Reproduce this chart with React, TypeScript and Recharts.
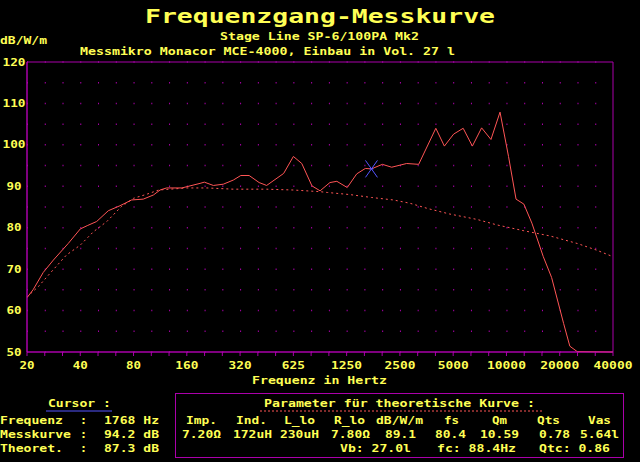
import React from "react";
import {
  LineChart,
  Line,
  XAxis,
  YAxis,
  CartesianGrid,
  ReferenceArea,
  ReferenceDot,
} from "recharts";

const YELLOW = "#ffff55";
const MAGENTA = "#aa00aa";
const RED = "#ff5555";
const BLUE = "#5555ff";
const FONT = "'DejaVu Sans Mono', monospace";

// Messkurve (measured), Hz / dB
const messFreq = [
  20, 21.7, 24.7, 28.2, 34.2, 40, 43.8, 49.5, 57.6, 67, 78, 90.8, 103.6, 113,
  123, 150, 190, 201, 226, 257, 293, 323, 360, 410, 452, 564, 640, 714, 815,
  906, 1030, 1127, 1290, 1460, 1632, 1768, 2038, 2300, 2794, 3268, 4085, 4566,
  5152, 5830, 6572, 7412, 8369, 9418, 10520, 11600, 12840, 14260, 16540, 18420,
  21540, 23360, 25700, 40960,
];
const messDb = [
  63.1, 65.1, 69.2, 72.2, 76.2, 79.7, 80.5, 81.5, 84.1, 85.3, 86.7, 86.9, 87.9,
  89.1, 89.6, 89.6, 90.7, 91.0, 90.2, 90.5, 91.5, 92.6, 92.6, 90.9, 90.2, 93.1,
  97.2, 95.5, 90.1, 88.9, 90.9, 91.2, 89.7, 93.0, 94.3, 94.2, 95.3, 94.6, 95.5,
  95.3, 104.0, 99.7, 102.6, 104.0, 99.7, 104.1, 101.3, 107.9, 97.2, 86.9, 85.7,
  81.1, 73.0, 68.0, 56.9, 51.4, 50.1, 50.0,
];

// theoretische Kurve
const theoFreq = [
  20, 23.2, 27, 33.4, 40, 47.4, 56.5, 68.3, 80, 95.3, 111, 160, 208, 293, 452,
  640, 906, 1000, 1334, 1768, 2350, 2920, 3700, 4900, 6980, 9000, 12720, 18100,
  25700, 33040, 40960,
];
const theoDb = [
  63.3, 65.8, 69.0, 73.4, 75.8, 79.0, 81.5, 85.1, 87.1, 88.1, 89.1, 89.6, 89.6,
  89.3, 89.3, 89.1, 88.7, 88.5, 88.0, 87.3, 86.7, 85.9, 84.6, 83.3, 82.0, 80.7,
  79.3, 78.0, 76.2, 74.6, 73.0,
];

const xLabels = ["20", "40", "80", "160", "320", "625", "1250", "2500", "5000", "10000", "20000", "40000"];
const yTicks = [50, 55, 60, 65, 70, 75, 80, 85, 90, 95, 100, 105, 110, 115, 120];

const cursor = { freq: 1768, mess: 94.2, theo: 87.3 };
const cursorRows = ["Frequenz", "Messkurve", "Theoret."];
const cursorVals = [`${cursor.freq} Hz`, `${cursor.mess} dB`, `${cursor.theo} dB`];

const paramNames = ["Imp.", "Ind.", "L_lo", "R_lo", "dB/W/m", "fs", "Qm", "Qts", "Vas"];
const paramValues = ["7.20Ω", "172uH", "230uH", "7.80Ω", "89.1", "80.4", "10.59", "0.78", "5.64l"];
const boxValues = ["Vb: 27.0l", "fc: 88.4Hz", "Qtc: 0.86"];

// layout of the parameter table
const nameX = [186, 236, 284, 334, 376, 444, 492, 537, 588];
const valueX = [182, 233, 280, 331, 385, 435, 480, 539, 580];
const boxX = [340, 437, 539];

const messData = messFreq.map((f, i) => ({ f, db: messDb[i] }));
const theoData = theoFreq.map((f, i) => ({ f, db: theoDb[i] }));
const xTicks = Array.from({ length: 34 }, (_, k) => 20 * Math.pow(2, k / 3));

// bitmap-like text: 8px per character cell
function Txt({ x, y, s, size = 10, cell = 8, anchor = "start", fill = YELLOW }: any) {
  return (
    <text
      x={x}
      y={y}
      fontFamily={FONT}
      fontWeight="bold"
      fontSize={size}
      fill={fill}
      textAnchor={anchor}
      textLength={s.length * cell - cell / 8}
      lengthAdjust="spacingAndGlyphs"
    >
      {s}
    </text>
  );
}

const XTick = ({ x, y, payload }: any) => {
  const k = Math.round(Math.log2(payload.value / 20) * 3);
  if (k % 3 !== 0) return <g />;
  return <Txt x={x} y={y + 11} s={xLabels[k / 3]} anchor="middle" />;
};

const YTick = ({ x, y, payload }: any) => {
  if (payload.value % 10 !== 0) return <g />;
  return <Txt x={x - 13} y={y + 3.5} s={String(payload.value)} anchor="middle" />;
};

const CursorMark = ({ cx, cy }: any) => (
  <g stroke={BLUE} strokeWidth={1}>
    <line x1={cx - 6} y1={cy - 8.5} x2={cx + 6} y2={cy + 8.5} />
    <line x1={cx - 6} y1={cy + 8.5} x2={cx + 6} y2={cy - 8.5} />
    <line x1={cx - 2} y1={cy} x2={cx + 2} y2={cy} />
  </g>
);

export default function App() {
  return (
    <div style={{ position: "fixed", left: 0, top: 0, width: 640, height: 462, background: "#000" }}>
      <LineChart width={640} height={462} margin={{ top: 62, right: 27, bottom: 80, left: 0 }}>
        <CartesianGrid
          vertical={false}
          stroke={MAGENTA}
          strokeDasharray="1 16.758"
          strokeWidth={1.5}
        />
        <XAxis
          dataKey="f"
          type="number"
          scale="log"
          domain={[20, 40960]}
          allowDataOverflow
          ticks={xTicks}
          interval={0}
          height={30}
          tickSize={4}
          tick={<XTick />}
          tickLine={{ stroke: MAGENTA }}
          axisLine={{ stroke: MAGENTA }}
        />
        <YAxis
          type="number"
          domain={[50, 120]}
          ticks={yTicks}
          interval={0}
          width={27}
          tickSize={0}
          tickMargin={0}
          tickLine={false}
          tick={<YTick />}
          axisLine={{ stroke: MAGENTA }}
        />
        <ReferenceArea x1={20} x2={40960} y1={50} y2={120} fill="none" stroke={MAGENTA} fillOpacity={0} />
        <Line
          data={theoData}
          dataKey="db"
          type="linear"
          stroke={RED}
          strokeWidth={1}
          strokeDasharray="2 3"
          dot={false}
          isAnimationActive={false}
        />
        <Line
          data={messData}
          dataKey="db"
          type="linear"
          stroke={RED}
          strokeWidth={1}
          dot={false}
          isAnimationActive={false}
        />
        <ReferenceDot x={cursor.freq} y={cursor.mess} r={6} shape={<CursorMark />} />
      </LineChart>

      <svg
        width={640}
        height={462}
        style={{ position: "absolute", left: 0, top: 0, pointerEvents: "none" }}
      >
        <Txt x={145} y={23} s="Frequenzgang-Messkurve" size={19} cell={16} />
        <Txt x={220} y={39.5} s="Stage Line SP-6/100PA Mk2" />
        <Txt x={0} y={44} s="dB/W/m" />
        <Txt x={80} y={54.5} s="Messmikro Monacor MCE-4000, Einbau in Vol. 27 l" />
        <Txt x={252} y={384} s="Frequenz in Hertz" />

        <Txt x={48} y={407} s="Cursor :" />
        <line x1={46} y1={411} x2={112} y2={411} stroke={BLUE} />
        {cursorRows.map((r, i) => (
          <g key={r}>
            <Txt x={0} y={423.5 + i * 14} s={r} />
            <Txt x={80} y={423.5 + i * 14} s=":" />
            <Txt x={104} y={423.5 + i * 14} s={cursorVals[i]} />
          </g>
        ))}

        <rect x={175.5} y={393.5} width={448} height={64} fill="none" stroke={MAGENTA} />
        <Txt x={264} y={407} s="Parameter für theoretische Kurve :" />
        <line x1={260} y1={411} x2={542} y2={411} stroke={RED} strokeDasharray="2 2" />
        {paramNames.map((n, i) => (
          <Txt key={n} x={nameX[i]} y={423.5} s={n} />
        ))}
        {paramValues.map((v, i) => (
          <Txt key={i} x={valueX[i]} y={437.5} s={v} />
        ))}
        {boxValues.map((v, i) => (
          <Txt key={v} x={boxX[i]} y={452} s={v} />
        ))}
      </svg>
    </div>
  );
}
